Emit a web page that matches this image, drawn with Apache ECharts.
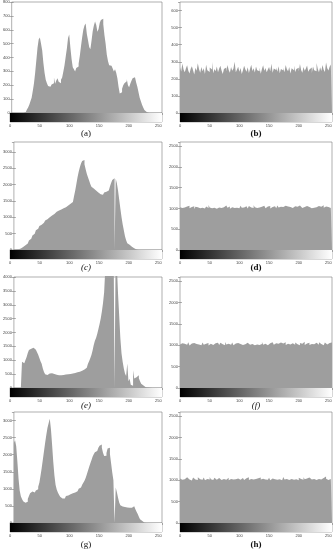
<!DOCTYPE html>
<html>
<head>
<meta charset="utf-8">
<script src="https://cdn.jsdelivr.net/npm/echarts@6/dist/echarts.min.js"></script>
<style>
  html, body { margin: 0; padding: 0; background: #fff; }
  #histograms { width: 336px; height: 550px; }
</style>
</head>
<body>
<div id="histograms"></div>
<script>
// gray level histograms, one value per 2 gray levels (128 bins)
const binWidth = 2
const grayRange = [0, 256]
const xStep = 50
const panelLabels = ['(a)', '(b)', '(c)', '(d)', '(e)', '(f)', '(g)', '(h)']
const yMax = [800, 650, 3300, 2600, 4000, 2600, 3250, 2600]
const yStep = [100, 100, 500, 500, 500, 500, 500, 500]

const histA = [
  0, 0, 0, 0, 0, 0, 0, 0, 0, 0, 3, 8, 15, 25, 40, 60,
  85, 110, 160, 215, 290, 380, 470, 530, 545, 500, 450, 360, 290, 240, 215, 195,
  190, 180, 205, 215, 255, 210, 235, 250, 225, 215, 240, 255, 300, 345, 405, 465,
  540, 565, 470, 390, 330, 315, 300, 325, 335, 355, 410, 480, 545, 600, 630, 645,
  570, 525, 475, 460, 520, 590, 630, 660, 635, 585, 605, 650, 670, 680, 640, 560,
  500, 420, 375, 345, 340, 335, 320, 300, 315, 290, 250, 190, 140, 150, 175, 200,
  215, 228, 245, 200, 185, 210, 232, 250, 258, 245, 220, 190, 150, 110, 85, 60,
  40, 22, 8, 2, 0, 0, 0, 0, 0, 0, 0, 0, 0, 0, 0, 0
]
const histB = [
  268, 243, 290, 255, 238, 262, 280, 247, 231, 259, 274, 250, 226, 265, 248, 291,
  257, 236, 270, 244, 262, 229, 283, 251, 240, 266, 255, 298, 233, 258, 245, 272,
  239, 261, 276, 249, 228, 257, 266, 243, 281, 252, 235, 269, 247, 260, 300, 238,
  254, 271, 242, 263, 229, 250, 277, 256, 241, 268, 234, 259, 283, 246, 262, 237,
  273, 251, 244, 266, 230, 257, 279, 248, 263, 239, 255, 270, 245, 288, 236, 260,
  252, 267, 241, 274, 233, 258, 249, 264, 238, 281, 256, 244, 270, 231, 262, 251,
  276, 240, 258, 265, 243, 287, 252, 236, 269, 247, 260, 278, 241, 255, 266, 234,
  272, 250, 245, 293, 259, 238, 268, 246, 281, 253, 240, 296, 262, 249, 271, 284
]
const histC = [
  8, 12, 15, 20, 30, 45, 65, 90, 120, 145, 170, 200, 240, 290, 340, 390,
  440, 500, 555, 600, 650, 700, 730, 770, 800, 830, 870, 905, 940, 980, 1000, 1030,
  1055, 1075, 1100, 1150, 1170, 1185, 1205, 1220, 1240, 1260, 1275, 1290, 1310, 1335, 1360, 1390,
  1415, 1440, 1465, 1520, 1650, 1820, 2020, 2220, 2390, 2525, 2640, 2720, 2750, 2620, 2470, 2330,
  2220, 2120, 2020, 1930, 1880, 1840, 1820, 1790, 1760, 1735, 1700, 1675, 1690, 1720, 1755, 1780,
  1800, 1815, 1860, 1940, 2050, 2140, 2190, 0, 2180, 2040, 1820, 1540, 1270, 1010, 790, 600,
  420, 300, 210, 160, 125, 100, 80, 55, 35, 18, 8, 3, 0, 0, 0, 0,
  0, 0, 0, 0, 0, 0, 0, 0, 0, 0, 0, 0, 0, 0, 0, 0
]
const histD = [
  1032, 1011, 1058, 1024, 996, 1045, 1019, 1067, 1003, 1038, 1015, 1052, 990, 1041, 1027, 1074,
  1008, 1036, 1020, 1061, 998, 1030, 1049, 1012, 1083, 1025, 1004, 1043, 1018, 1056, 993, 1035,
  1022, 1064, 1009, 1040, 1027, 1001, 1071, 1033, 1015, 1048, 995, 1029, 1057, 1011, 1039, 1020,
  1046, 1006, 1031, 1068, 1017, 1026, 1003, 1052, 1037, 999, 1062, 1021, 1044, 1010, 1078, 1028,
  1013, 1050, 1024, 992, 1041, 1019, 1066, 1034, 1007, 1047, 1022, 1059, 1001, 1036, 1016, 1054,
  1029, 1005, 1072, 1023, 1042, 1011, 1038, 997, 1063, 1026, 1048, 1014, 1035, 1080, 1009, 1031,
  1055, 1018, 1040, 1002, 1069, 1027, 1012, 1046, 1033, 994, 1058, 1021, 1037, 1065, 1006, 1043,
  1016, 1051, 1030, 1008, 1061, 1025, 1039, 1003, 1076, 1020, 1045, 1013, 1034, 1057, 1010, 1048
]
const histE = [
  0, 0, 0, 0, 0, 0, 0, 950, 890, 840, 1010, 1120, 1260, 1370, 1410, 1460,
  1450, 1420, 1380, 1340, 1290, 1200, 1080, 960, 870, 700, 580, 500, 465, 480, 520, 545,
  530, 515, 505, 495, 480, 470, 462, 458, 460, 462, 470, 478, 485, 490, 495, 500,
  505, 515, 525, 535, 545, 555, 565, 575, 585, 600, 620, 640, 665, 695, 730, 790,
  870, 960, 1070, 1190, 1350, 1550, 1700, 1800, 1950, 2120, 2300, 2500, 2750, 3050, 3450, 4300,
  4800, 5400, 6000, 6400, 6600, 6600, 6300, 0, 5200, 4400, 3400, 2600, 1800, 1250, 950, 700,
  520, 430, 880, 240, 330, 120, 80, 640, 340, 390, 430, 460, 350, 240, 150, 90,
  50, 30, 20, 15, 10, 8, 5, 0, 0, 0, 0, 0, 0, 0, 0, 0
]
const histF = [
  1019, 1047, 1005, 1036, 1062, 1014, 1029, 1071, 998, 1041, 1023, 1056, 1010, 1033, 1079, 1017,
  1044, 1002, 1028, 1065, 1012, 1039, 1021, 1053, 995, 1035, 1068, 1008, 1026, 1049, 1015, 1060,
  1031, 1006, 1057, 1024, 1043, 1000, 1075, 1018, 1037, 1051, 1011, 1027, 1063, 1004, 1040, 1022,
  1054, 1016, 1032, 1070, 1009, 1045, 1025, 997, 1059, 1034, 1013, 1048, 1028, 1066, 1003, 1038,
  1020, 1061, 1007, 1042, 1030, 1077, 1012, 1035, 1055, 1001, 1026, 1046, 1015, 1069, 1033, 1011,
  1050, 1024, 1039, 993, 1064, 1018, 1043, 1029, 1072, 1008, 1036, 1057, 1021, 1004, 1047, 1031,
  1014, 1067, 1027, 1040, 1002, 1053, 1035, 1019, 1081, 1010, 1044, 1025, 1060, 1006, 1032, 1049,
  1023, 1009, 1058, 1037, 1015, 1071, 1028, 1046, 1000, 1034, 1063, 1017, 1041, 1054, 1012, 1066
]
const histG = [
  2350, 2420, 2250, 1800, 1300, 950, 780, 700, 640, 590, 580, 620, 700, 790, 870, 920,
  900, 890, 920, 950, 990, 1060, 1180, 1380, 1600, 1850, 2100, 2350, 2580, 2780, 2920, 3050,
  2750, 2300, 1800, 1400, 1120, 980, 890, 830, 770, 720, 700, 720, 760, 790, 805, 820,
  840, 855, 870, 880, 895, 905, 930, 960, 1000, 1040, 1070, 1120, 1180, 1240, 1320, 1420,
  1530, 1640, 1740, 1840, 1940, 2010, 2070, 2110, 2150, 2200, 2260, 2300, 2200, 2060, 1960, 1970,
  2050, 2180, 2200, 2020, 1750, 1480, 1250, 0, 1040, 900, 740, 600, 520, 485, 470, 465,
  460, 455, 450, 445, 435, 450, 470, 490, 455, 400, 330, 260, 180, 110, 60, 20,
  5, 0, 0, 0, 0, 0, 0, 0, 0, 0, 0, 0, 0, 0, 0, 0
]
const histH = [
  1041, 1013, 1058, 1026, 1002, 1069, 1034, 1018, 1050, 995, 1037, 1063, 1021, 1045, 1008, 1072,
  1027, 1054, 1011, 1039, 1066, 1003, 1031, 1048, 1019, 1077, 1024, 1006, 1043, 1060, 1015, 1035,
  1052, 1020, 1008, 1045, 1029, 1071, 1012, 1038, 1057, 1001, 1033, 1064, 1017, 1049, 1025, 996,
  1040, 1068, 1014, 1031, 1055, 1022, 1005, 1047, 1036, 1074, 1010, 1028, 1061, 1019, 1044, 1033,
  1007, 1051, 1026, 1065, 1016, 1039, 1083, 1021, 1046, 1011, 1030, 1058, 1002, 1042, 1070, 1025,
  1036, 1013, 1049, 1027, 1062, 1004, 1040, 1076, 1018, 1033, 1055, 1009, 1045, 1029, 1067, 1015,
  1053, 1024, 1038, 1001, 1059, 1031, 1047, 1012, 1073, 1026, 1041, 1006, 1064, 1034, 1019, 1050,
  1028, 1061, 1010, 1044, 1032, 1069, 1016, 1037, 1054, 1022, 1087, 1035, 1008, 1048, 1030, 1057
]
const hists = [histA, histB, histC, histD, histE, histF, histG, histH]

// layout (px)
const colLeft = [10, 180]
const plotW = 152
const rowTop = [2, 142, 277, 412]
const rowZero = [113, 250, 388, 523]
const gradH = 9
const labelY = [134, 268, 406, 545]
const labelX = [86, 256]
const labelFont = [
  { fontWeight: 'normal', fontStyle: 'normal' },
  { fontWeight: 'bold', fontStyle: 'normal' },
  { fontWeight: 'normal', fontStyle: 'italic' },
  { fontWeight: 'bold', fontStyle: 'normal' },
  { fontWeight: 'normal', fontStyle: 'italic' },
  { fontWeight: 'normal', fontStyle: 'italic' },
  { fontWeight: 'normal', fontStyle: 'normal' },
  { fontWeight: 'bold', fontStyle: 'normal' }
]

const frameColor = '#7a7a7a'
const textColor = '#444'
const barColor = '#9e9e9e'
const tinyFont = { fontSize: 4, color: textColor, fontFamily: 'Liberation Sans', formatter: v => String(v) }

const grid = []
const xAxis = []
const yAxis = []
const series = []
const graphic = []

hists.forEach((hist, k) => {
  const col = k % 2
  const row = Math.floor(k / 2)
  const left = colLeft[col]
  const top = rowTop[row]
  const zero = rowZero[row]
  const g = 2 * k
  const a = 3 * k

  grid.push({ left: left, top: top, width: plotW, height: zero - top, show: true, borderColor: frameColor, borderWidth: 0.6 })
  grid.push({ left: left, top: zero, width: plotW, height: gradH, show: true, borderColor: frameColor, borderWidth: 0.6 })

  const xBase = { type: 'value', min: grayRange[0], max: grayRange[1], interval: xStep, splitLine: { show: false } }
  xAxis.push(Object.assign({}, xBase, { gridIndex: g, position: 'bottom', axisLine: { show: false }, axisTick: { show: false }, axisLabel: { show: false } }))
  xAxis.push(Object.assign({}, xBase, { gridIndex: g, position: 'top', axisLine: { show: false }, axisTick: { inside: true, length: 2, lineStyle: { color: frameColor, width: 0.6 } }, axisLabel: { show: false } }))
  xAxis.push(Object.assign({}, xBase, {
    gridIndex: g + 1, position: 'bottom', axisLine: { show: false },
    axisTick: { inside: true, length: 2, lineStyle: { color: frameColor, width: 0.6 } },
    axisLabel: Object.assign({ margin: 2, showMaxLabel: false }, tinyFont)
  }))

  const yBase = { type: 'value', min: 0, max: yMax[k], interval: yStep[k], splitLine: { show: false }, axisLine: { show: false } }
  const showTop = yMax[k] % yStep[k] === 0
  yAxis.push(Object.assign({}, yBase, {
    gridIndex: g, position: 'left',
    axisTick: { inside: true, length: 2, lineStyle: { color: frameColor, width: 0.6 } },
    axisLabel: Object.assign({ margin: 2, showMaxLabel: showTop }, tinyFont)
  }))
  yAxis.push(Object.assign({}, yBase, {
    gridIndex: g, position: 'right',
    axisTick: { inside: true, length: 2, lineStyle: { color: frameColor, width: 0.6 } },
    axisLabel: { show: false }
  }))
  yAxis.push({ type: 'value', gridIndex: g + 1, min: 0, max: 1, show: false })

  const pts = hist.map((v, i) => [i * binWidth, v])
  pts.push([grayRange[1], hist[hist.length - 1]])
  series.push({
    type: 'line',
    xAxisIndex: a,
    yAxisIndex: a,
    data: pts,
    step: 'end',
    symbol: 'none',
    silent: true,
    animation: false,
    lineStyle: { opacity: 0 },
    areaStyle: { color: barColor, opacity: 1 }
  })

  series.push({
    type: 'custom',
    xAxisIndex: a + 2,
    yAxisIndex: a + 2,
    data: [[grayRange[0], grayRange[1]]],
    encode: { x: [0, 1] },
    silent: true,
    animation: false,
    renderItem: function (params, api) {
      const p0 = api.coord([api.value(0), 1])
      const p1 = api.coord([api.value(1), 0])
      return {
        type: 'rect',
        shape: { x: p0[0], y: p0[1], width: p1[0] - p0[0], height: p1[1] - p0[1] },
        style: {
          fill: new echarts.graphic.LinearGradient(0, 0, 1, 0, [
            { offset: 0, color: '#000' },
            { offset: 1, color: '#fff' }
          ])
        }
      }
    }
  })

  graphic.push({
    type: 'text',
    x: labelX[col],
    y: labelY[row],
    style: {
      text: panelLabels[k],
      fill: '#111',
      font: labelFont[k].fontStyle + ' ' + labelFont[k].fontWeight + ' 9px "Liberation Serif"',
      textAlign: 'center',
      textVerticalAlign: 'middle'
    }
  })
})

const chart = echarts.init(document.getElementById('histograms'))
chart.setOption({
  animation: false,
  grid: grid,
  xAxis: xAxis,
  yAxis: yAxis,
  series: series,
  graphic: graphic
})
</script>
</body>
</html>
